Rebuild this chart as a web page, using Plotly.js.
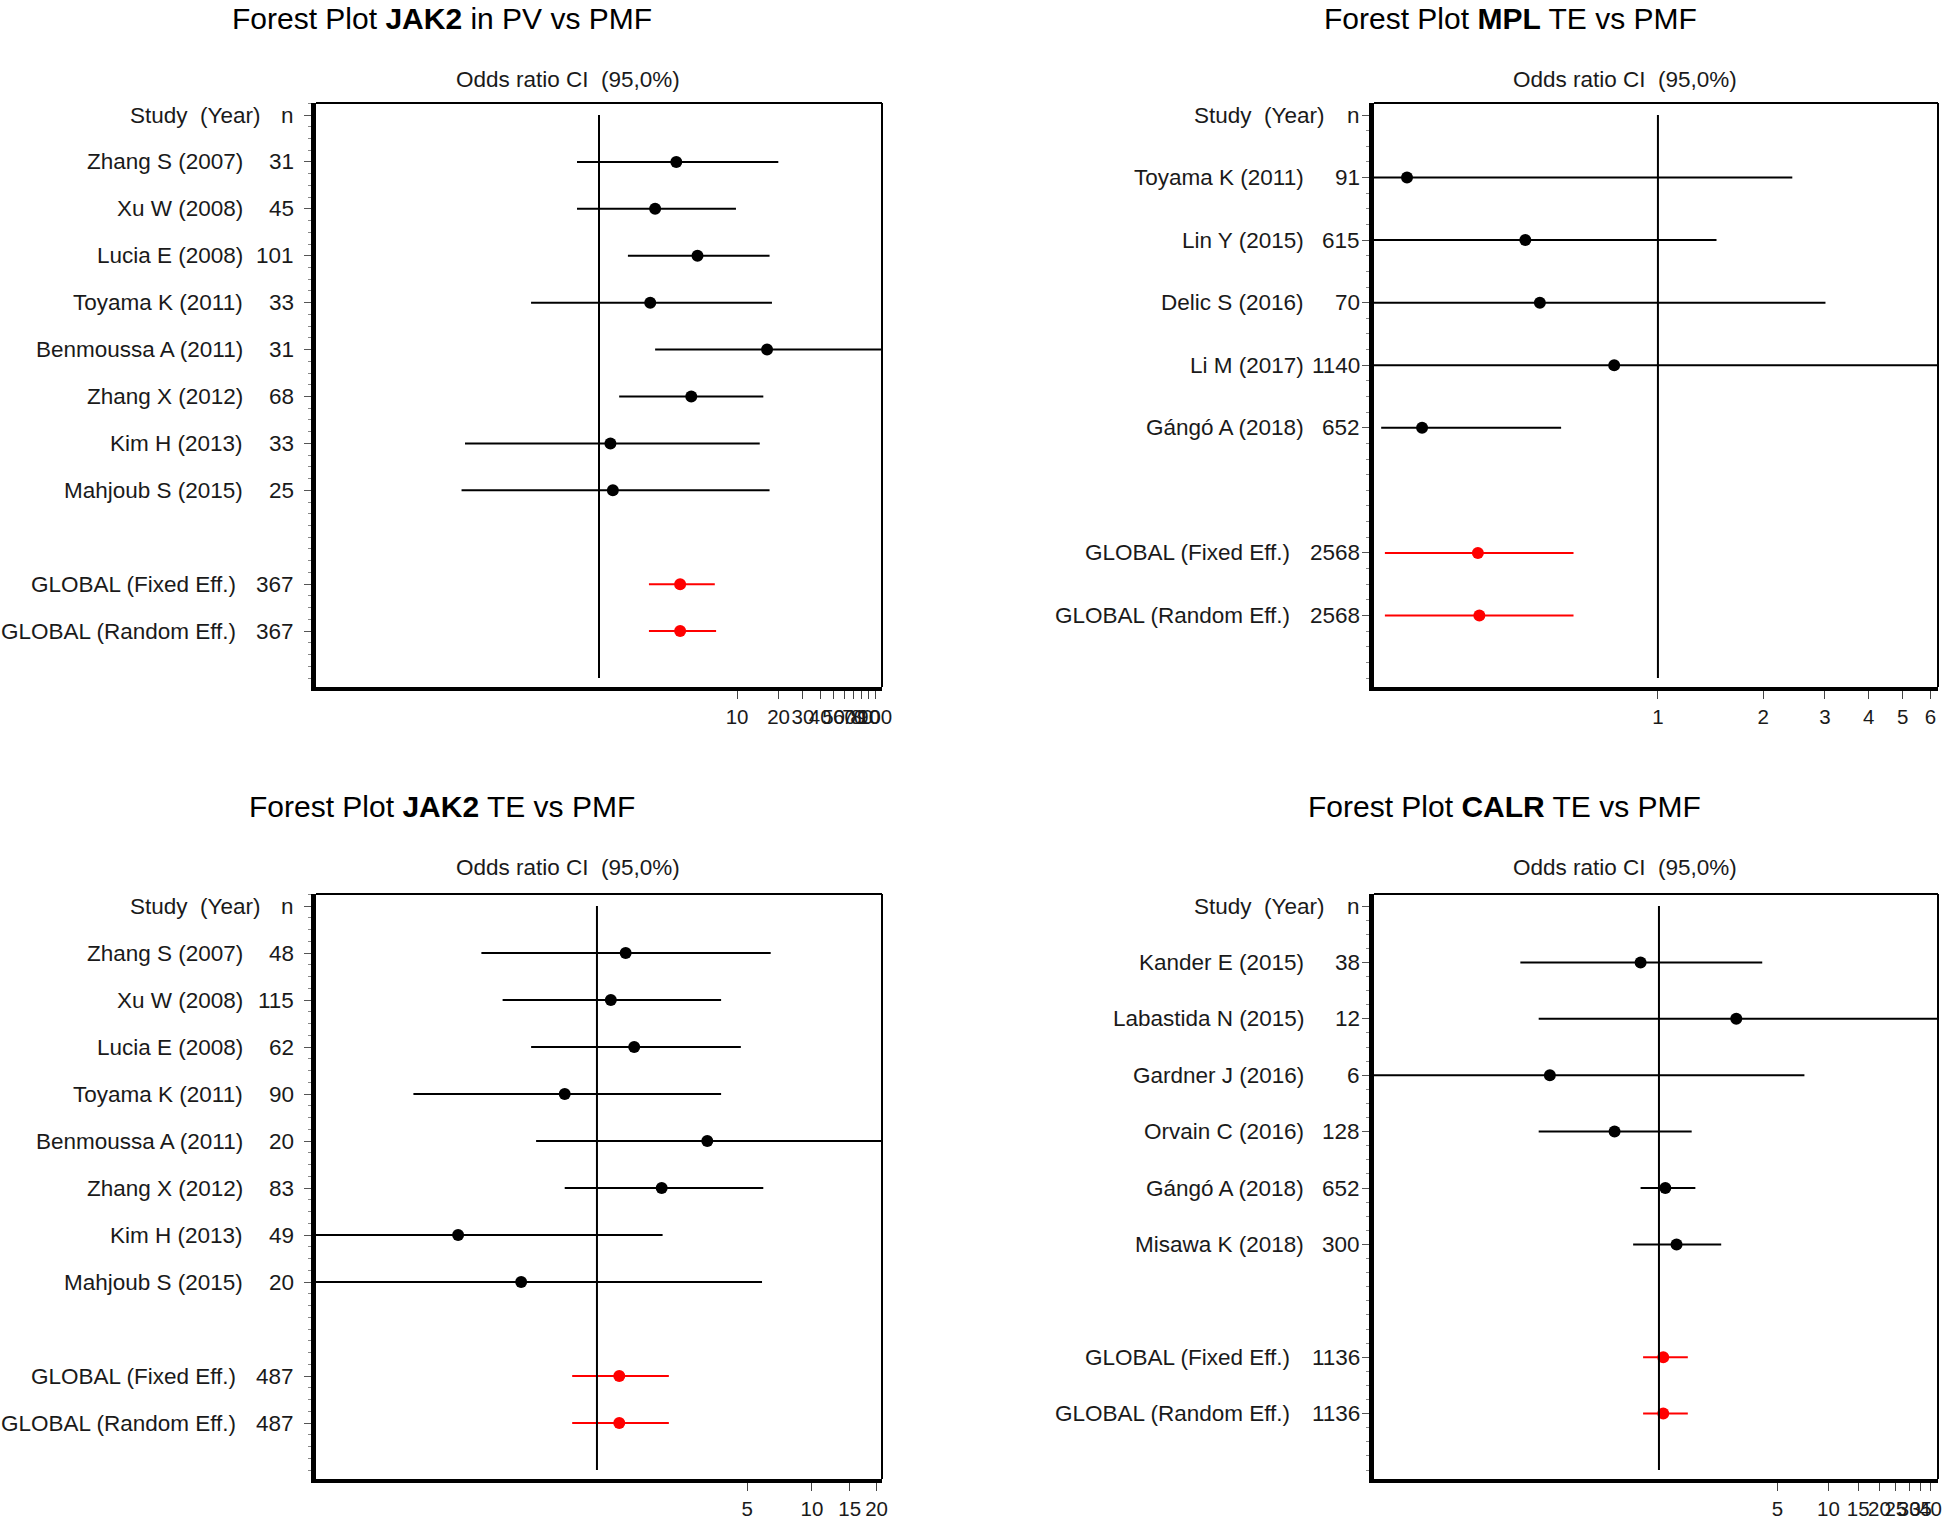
<!DOCTYPE html>
<html><head><meta charset="utf-8">
<script src="https://cdn.plot.ly/plotly-3.0.1.min.js"></script>
<style>html,body{margin:0;padding:0;background:#fff}#chart{width:1946px;height:1519px}</style>
</head><body><div id="chart"></div>
<script>
// ---------- DATA ----------
// Panel 1: JAK2 in PV vs PMF
const p1Studies = ["Zhang S (2007)","Xu W (2008)","Lucia E (2008)","Toyama K (2011)","Benmoussa A (2011)","Zhang X (2012)","Kim H (2013)","Mahjoub S (2015)"];
const p1N  = [31,45,101,33,31,68,33,25];
const p1OR = [3.63,2.55,5.17,2.35,16.5,4.66,1.21,1.26];
const p1Lo = [0.693,0.693,1.62,0.322,2.55,1.40,0.107,0.101];
const p1Hi = [19.9,9.82,17.2,17.9,200,15.5,14.6,17.2];
const p1GN  = [367,367];
const p1GOR = [3.87,3.87];
const p1GLo = [2.30,2.30];
const p1GHi = [6.90,7.05];
const p1Ticks = [10,20,30,40,50,60,70,80,90,100];

// Panel 2: MPL TE vs PMF
const p2Studies = ["Toyama K (2011)","Lin Y (2015)","Delic S (2016)","Li M (2017)","Gángó A (2018)"];
const p2N  = [91,615,70,1140,652];
const p2OR = [0.192,0.418,0.46,0.75,0.212];
const p2Lo = [0.05,0.05,0.05,0.05,0.162];
const p2Hi = [2.42,1.47,3.01,20,0.529];
const p2GN  = [2568,2568];
const p2GOR = [0.306,0.309];
const p2GLo = [0.166,0.166];
const p2GHi = [0.574,0.574];
const p2Ticks = [1,2,3,4,5,6];

// Panel 3: JAK2 TE vs PMF
const p3Studies = ["Zhang S (2007)","Xu W (2008)","Lucia E (2008)","Toyama K (2011)","Benmoussa A (2011)","Zhang X (2012)","Kim H (2013)","Mahjoub S (2015)"];
const p3N  = [48,115,62,90,20,83,49,20];
const p3OR = [1.36,1.16,1.49,0.708,3.26,2.0,0.226,0.444];
const p3Lo = [0.29,0.364,0.494,0.14,0.521,0.708,0.02,0.02];
const p3Hi = [6.43,3.78,4.67,3.78,30,5.94,2.02,5.86];
const p3GN  = [487,487];
const p3GOR = [1.27,1.27];
const p3GLo = [0.767,0.767];
const p3GHi = [2.16,2.16];
const p3Ticks = [5,10,15,20];

// Panel 4: CALR TE vs PMF
const p4Studies = ["Kander E (2015)","Labastida N (2015)","Gardner J (2016)","Orvain C (2016)","Gángó A (2018)","Misawa K (2018)"];
const p4N  = [38,12,6,128,652,300];
const p4OR = [0.779,2.86,0.227,0.547,1.09,1.27];
const p4Lo = [0.152,0.195,0.005,0.195,0.779,0.704];
const p4Hi = [4.07,80,7.22,1.56,1.64,2.33];
const p4GN  = [1136,1136];
const p4GOR = [1.06,1.06];
const p4GLo = [0.806,0.806];
const p4GHi = [1.48,1.48];
const p4Ticks = [5,10,15,20,25,30,35,40];

const globalLabels = ["GLOBAL (Fixed Eff.)","GLOBAL (Random Eff.)"];

// ---------- LAYOUT ----------
const W = 1946, H = 1519;
const FONT = 'Arial, "Liberation Sans", sans-serif';
const LEFT_LBL  = {nRight:296, name:245, global:238, header:263};
const RIGHT_LBL = {nRight:1362, name:1306, global:1292, header:1327};

const panels = [
  {title:'Forest Plot <b>JAK2</b> in PV vs PMF', st:p1Studies, n:p1N, or:p1OR, lo:p1Lo, hi:p1Hi, gn:p1GN, gor:p1GOR, glo:p1GLo, ghi:p1GHi, ticks:p1Ticks,
   box:{l:316,r:882,t:103,b:687}, xr:[-2.05,2.05], tx:442, ty:19, lbl:LEFT_LBL},
  {title:'Forest Plot <b>MPL</b> TE vs PMF', st:p2Studies, n:p2N, or:p2OR, lo:p2Lo, hi:p2Hi, gn:p2GN, gor:p2GOR, glo:p2GLo, ghi:p2GHi, ticks:p2Ticks,
   box:{l:1374,r:1938,t:103,b:687}, xr:[-0.811,0.80], tx:1510, ty:19, lbl:RIGHT_LBL},
  {title:'Forest Plot <b>JAK2</b> TE vs PMF', st:p3Studies, n:p3N, or:p3OR, lo:p3Lo, hi:p3Hi, gn:p3GN, gor:p3GOR, glo:p3GLo, ghi:p3GHi, ticks:p3Ticks,
   box:{l:316,r:882,t:894,b:1479}, xr:[-1.307,1.326], tx:442, ty:806, lbl:LEFT_LBL},
  {title:'Forest Plot <b>CALR</b> TE vs PMF', st:p4Studies, n:p4N, or:p4OR, lo:p4Lo, hi:p4Hi, gn:p4GN, gor:p4GOR, glo:p4GLo, ghi:p4GHi, ticks:p4Ticks,
   box:{l:1374,r:1938,t:894,b:1479}, xr:[-1.682,1.647], tx:1504, ty:806, lbl:RIGHT_LBL}
];

const data = [];
const layout = {
  width: W, height: H, margin:{l:0,r:0,t:0,b:0},
  paper_bgcolor:'#fff', plot_bgcolor:'#fff', showlegend:false,
  font:{family:FONT, color:'#1a1a1a'},
  annotations:[], shapes:[]
};

panels.forEach((p, i) => {
  const sfx = i === 0 ? '' : String(i+1);
  const xa = 'x' + sfx, ya = 'y' + sfx;
  const k = p.st.length;
  const studyY = p.st.map((_, j) => j + 1);
  const globY = p.gn.map((_, j) => k + 2 + j);
  const lastY = globY[globY.length - 1];
  const padTop = 12, padBot = 9;
  const spacing = ((p.box.b - padBot) - (p.box.t + padTop)) / (lastY + 1);
  const yr = [lastY + 1 + padBot / spacing, -padTop / spacing];

  layout['xaxis' + sfx] = {
    domain:[p.box.l / W, p.box.r / W], anchor: ya, type:'log', range:p.xr,
    tickmode:'array', tickvals:p.ticks, ticktext:p.ticks.map(String), tickangle:0,
    ticks:'outside', ticklen:8, tickwidth:1, tickcolor:'#444',
    tickfont:{size:20.5, family:FONT, color:'#1a1a1a'}, ticklabelstandoff:0,
    showline:true, linewidth:4, linecolor:'#000', showgrid:false, zeroline:false, fixedrange:true
  };
  layout['yaxis' + sfx] = {
    domain:[1 - p.box.b / H, 1 - p.box.t / H], anchor: xa, range:yr,
    tickmode:'array', tickvals:[0].concat(studyY, globY), showticklabels:false,
    ticks:'outside', ticklen:7, tickwidth:1, tickcolor:'#555',
    minor:{tickmode:'linear', tick0:0, dtick:0.25, ticks:'outside', ticklen:3, tickwidth:1, tickcolor:'#888', showgrid:false},
    showline:true, linewidth:5, linecolor:'#000', showgrid:false, zeroline:false, fixedrange:true
  };

  // thin top & right frame lines
  layout.shapes.push({type:'line', xref:xa + ' domain', yref:ya + ' domain', x0:0, x1:1, y0:1, y1:1, line:{color:'#000', width:2}});
  layout.shapes.push({type:'line', xref:xa + ' domain', yref:ya + ' domain', x0:1, x1:1, y0:0, y1:1, line:{color:'#000', width:2}});
  // reference line at OR = 1
  layout.shapes.push({type:'line', xref:xa, yref:ya, x0:1, x1:1, y0:0, y1:lastY + 1, line:{color:'#000', width:2}});

  // studies
  data.push({
    type:'scatter', mode:'markers', xaxis:xa, yaxis:ya, x:p.or, y:studyY,
    marker:{color:'#000', size:12, symbol:'circle'},
    error_x:{type:'data', symmetric:false, array:p.hi.map((h, j) => h - p.or[j]), arrayminus:p.or.map((o, j) => o - p.lo[j]),
             width:0, thickness:2, color:'#000'},
    hoverinfo:'skip'
  });
  // global
  data.push({
    type:'scatter', mode:'markers', xaxis:xa, yaxis:ya, x:p.gor, y:globY,
    marker:{color:'#ff0000', size:12, symbol:'circle'},
    error_x:{type:'data', symmetric:false, array:p.ghi.map((h, j) => h - p.gor[j]), arrayminus:p.gor.map((o, j) => o - p.glo[j]),
             width:0, thickness:2, color:'#ff0000'},
    hoverinfo:'skip'
  });

  const lf = {family:FONT, size:22.5, color:'#1a1a1a'};
  const ann = (txt, xpx, y, anchor) => layout.annotations.push({
    text:txt, xref:'paper', yref:ya, x:xpx / W, y:y, xanchor:anchor || 'right', yanchor:'middle', showarrow:false, font:lf
  });
  ann('Study\u00a0 (Year)', p.lbl.header, 0);
  ann('n', p.lbl.nRight, 0);
  p.st.forEach((s, j) => { ann(s, p.lbl.name, studyY[j]); ann(String(p.n[j]), p.lbl.nRight, studyY[j]); });
  globalLabels.forEach((s, j) => { ann(s, p.lbl.global, globY[j]); ann(String(p.gn[j]), p.lbl.nRight, globY[j]); });

  // titles
  layout.annotations.push({text:p.title, xref:'paper', yref:'paper', x:p.tx / W, y:1 - p.ty / H,
    xanchor:'center', yanchor:'middle', showarrow:false, font:{family:FONT, size:30, color:'#000'}});
  layout.annotations.push({text:'Odds ratio CI\u00a0 (95,0%)', xref:'paper', yref:'paper',
    x:((p.box.l + p.box.r) / 2 - 31) / W, y:1 - (p.ty + 61) / H,
    xanchor:'center', yanchor:'middle', showarrow:false, font:lf});
});

Plotly.newPlot('chart', data, layout, {staticPlot:true, displayModeBar:false});
</script></body></html>
